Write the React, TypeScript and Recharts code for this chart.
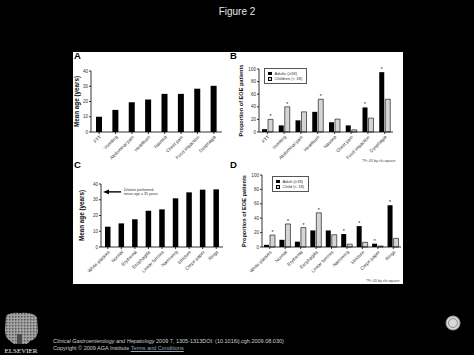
import { BarChart, Bar, XAxis, YAxis, ReferenceLine, LabelList, Legend } from "recharts"

// panel A / B: presenting symptoms
const symptoms = ["FTT", "Vomiting", "Abdominal pain", "Heartburn", "Nausea", "Chest pain", "Food impaction", "Dysphagia"]
const symptomAge = [10, 14.5, 19.5, 21.3, 25, 25, 28.4, 30.3]
const symptomAdults = [4.5, 10.5, 18.5, 32, 15.5, 10.5, 39, 95]
const symptomChildren = [20, 40, 32, 52, 20.5, 3.5, 22, 52]
const symptomAdultStar = ["", "", "", "", "", "", "*", "*"]
const symptomChildStar = ["*", "*", "", "*", "", "", "", ""]

// panel C / D: endoscopic findings
const findings = ["White plaques", "Normal", "Erythema", "Esophagitis", "Linear furrows", "Narrowing", "Stricture", "Crepe paper", "Rings"]
const findingAge = [12.9, 15, 17.6, 23, 23.9, 30.9, 34.7, 36.4, 36.6]
const findingAdults = [3, 10, 7.4, 23, 23, 18, 29, 4.6, 58]
const findingChildren = [16.6, 32, 27, 47.5, 17, 4, 6.5, 1.4, 12]
const findingAdultStar = ["", "", "", "", "", "*", "*", "*", "*"]
const findingChildStar = ["*", "*", "*", "*", "", "", "", "", ""]

const ageTicks = [0, 10, 20, 30, 40]
const pctTicks = [0, 20, 40, 60, 80, 100]
const dilationAge = 35

const ageA = symptoms.map((name, i) => ({ name, age: symptomAge[i] }))
const pctB = symptoms.map((name, i) => ({
  name,
  adults: symptomAdults[i],
  children: symptomChildren[i],
  aStar: symptomAdultStar[i],
  cStar: symptomChildStar[i],
}))
const ageC = findings.map((name, i) => ({ name, age: findingAge[i] }))
const pctD = findings.map((name, i) => ({
  name,
  adults: findingAdults[i],
  children: findingChildren[i],
  aStar: findingAdultStar[i],
  cStar: findingChildStar[i],
}))

const font = '"Liberation Sans", Arial, sans-serif'
const tickStyle = { fontSize: 4.6, fill: "#333", fontFamily: font }
const xTick = { ...tickStyle, angle: -45, textAnchor: "end" }

function KeyBox({ labels }: { labels: string[] }) {
  const sw = { display: "inline-block", width: 3.5, height: 3.5, marginRight: 3, verticalAlign: "middle" }
  return (
    <div
      style={{
        border: "0.8px solid #555",
        padding: "1.5px 4px 1.5px 3px",
        background: "#fff",
        fontSize: 4.2,
        lineHeight: "5.5px",
        color: "#333",
        fontFamily: font,
        whiteSpace: "nowrap",
      }}
    >
      <div>
        <span style={{ ...sw, background: "#000" }} />
        {labels[0]}
      </div>
      <div>
        <span style={{ ...sw, background: "#d4d4d4", border: "0.6px solid #000", boxSizing: "border-box" }} />
        {labels[1]}
      </div>
    </div>
  )
}

function DilationArrow(props: any) {
  const { x1, y1 } = props
  return (
    <g>
      <line x1={x1 + 7} y1={y1} x2={x1 + 20} y2={y1} stroke="#000" strokeWidth={1.4} />
      <path d={`M${x1 + 2},${y1} L${x1 + 8},${y1 - 2.4} L${x1 + 8},${y1 + 2.4} Z`} fill="#000" />
      <text x={x1 + 23} y={y1 - 1} fontSize={3.6} fill="#333" fontFamily={font}>
        Dilation performed,
      </text>
      <text x={x1 + 23} y={y1 + 3.5} fontSize={3.6} fill="#333" fontFamily={font}>
        mean age = 35 years
      </text>
    </g>
  )
}

const yLabel = (value: string, offset: number, size: number) => ({
  value,
  angle: -90,
  position: "insideLeft" as const,
  offset,
  style: { textAnchor: "middle", fontSize: size, fontWeight: "bold", fill: "#111", fontFamily: font },
})

const panelLetter = (left: number, top: number) => ({
  position: "absolute" as const,
  left,
  top,
  fontSize: 9.5,
  fontWeight: "bold" as const,
  color: "#000",
  fontFamily: font,
})

const note = (left: number, top: number) => ({
  position: "absolute" as const,
  left,
  top,
  fontSize: 3.6,
  color: "#444",
  fontFamily: font,
  whiteSpace: "nowrap" as const,
})

export default function App() {
  return (
    <div
      style={{
        position: "absolute",
        left: 0,
        top: 0,
        width: 474,
        height: 355,
        background: "#000",
        overflow: "hidden",
        fontFamily: font,
      }}
    >
      <div style={{ position: "absolute", top: 6, width: 474, textAlign: "center", color: "#e6e6e6", fontSize: 10 }}>
        Figure 2
      </div>

      <div style={{ position: "absolute", left: 73, top: 52, width: 330, height: 232, background: "#fff" }} />
      <div style={panelLetter(74, 50)}>A</div>
      <div style={panelLetter(230, 50)}>B</div>
      <div style={panelLetter(74, 159)}>C</div>
      <div style={panelLetter(230, 159)}>D</div>

      {/* A */}
      <div style={{ position: "absolute", left: 73, top: 60 }}>
        <BarChart width={155} height={102} data={ageA} margin={{ top: 11, right: 6, left: 0, bottom: 0 }}>
          <XAxis
            dataKey="name"
            interval={0}
            height={30}
            tick={xTick}
            tickSize={2}
            tickMargin={1}
            stroke="#000"
            strokeWidth={0.8}
          />
          <YAxis
            width={18}
            domain={[0, 40]}
            ticks={ageTicks}
            tick={tickStyle}
            tickSize={2}
            tickMargin={1}
            stroke="#000"
            strokeWidth={0.8}
            label={yLabel("Mean age (years)", 4, 6.3)}
          />
          <Bar dataKey="age" fill="#000" barSize={6} isAnimationActive={false} />
        </BarChart>
      </div>

      {/* B */}
      <div style={{ position: "absolute", left: 233, top: 60 }}>
        <BarChart width={165} height={102} data={pctB} margin={{ top: 9, right: 5, left: 0, bottom: 0 }} barGap={1}>
          <XAxis
            dataKey="name"
            interval={0}
            height={30}
            tick={xTick}
            tickSize={2}
            tickMargin={1}
            stroke="#000"
            strokeWidth={0.8}
          />
          <YAxis
            width={26}
            domain={[0, 100]}
            ticks={pctTicks}
            tick={tickStyle}
            tickSize={2}
            tickMargin={1}
            stroke="#000"
            strokeWidth={0.8}
            label={yLabel("Proportion of EOE patients", 8, 5.6)}
          />
          <Legend
            layout="vertical"
            align="center"
            verticalAlign="middle"
            wrapperStyle={{ left: 31, top: 8 }}
            content={() => <KeyBox labels={["Adults (\u226518)", "Children (< 18)"]} />}
          />
          <Bar dataKey="adults" fill="#000" barSize={5} isAnimationActive={false}>
            <LabelList dataKey="aStar" position="top" offset={1} fontSize={5} fill="#000" />
          </Bar>
          <Bar dataKey="children" fill="#d4d4d4" stroke="#000" strokeWidth={0.6} barSize={5} isAnimationActive={false}>
            <LabelList dataKey="cStar" position="top" offset={1} fontSize={5} fill="#000" />
          </Bar>
        </BarChart>
      </div>
      <div style={note(362, 159)}>*P&lt;.05 by chi-square</div>

      {/* C */}
      <div style={{ position: "absolute", left: 73, top: 175 }}>
        <BarChart width={155} height={102} data={ageC} margin={{ top: 9, right: 5, left: 0, bottom: 0 }}>
          <XAxis
            dataKey="name"
            interval={0}
            height={30}
            tick={xTick}
            tickSize={2}
            tickMargin={1}
            stroke="#000"
            strokeWidth={0.8}
          />
          <YAxis
            width={28}
            domain={[0, 40]}
            ticks={ageTicks}
            tick={tickStyle}
            tickSize={2}
            tickMargin={1}
            stroke="#000"
            strokeWidth={0.8}
            label={yLabel("Mean age (years)", 9, 6.3)}
          />
          <ReferenceLine y={dilationAge} stroke="none" shape={DilationArrow} />
          <Bar dataKey="age" fill="#000" barSize={5.5} isAnimationActive={false} />
        </BarChart>
      </div>

      {/* D */}
      <div style={{ position: "absolute", left: 233, top: 166 }}>
        <BarChart width={170} height={111} data={pctD} margin={{ top: 9, right: 2, left: 0, bottom: 0 }} barGap={1}>
          <XAxis
            dataKey="name"
            interval={0}
            height={30}
            tick={xTick}
            tickSize={2}
            tickMargin={1}
            stroke="#000"
            strokeWidth={0.8}
          />
          <YAxis
            width={29}
            domain={[0, 100]}
            ticks={pctTicks}
            tick={tickStyle}
            tickSize={2}
            tickMargin={1}
            stroke="#000"
            strokeWidth={0.8}
            label={yLabel("Proportion of EOE patients", 11, 5.6)}
          />
          <Legend
            layout="vertical"
            align="center"
            verticalAlign="middle"
            wrapperStyle={{ left: 39, top: 10 }}
            content={() => <KeyBox labels={["Adult (\u226518)", "Child (< 18)"]} />}
          />
          <Bar dataKey="adults" fill="#000" barSize={5} isAnimationActive={false}>
            <LabelList dataKey="aStar" position="top" offset={1} fontSize={5} fill="#000" />
          </Bar>
          <Bar dataKey="children" fill="#d4d4d4" stroke="#000" strokeWidth={0.6} barSize={5} isAnimationActive={false}>
            <LabelList dataKey="cStar" position="top" offset={1} fontSize={5} fill="#000" />
          </Bar>
        </BarChart>
      </div>
      <div style={note(366, 279)}>*P&lt;.05 by chi-square</div>

      {/* footer */}
      <svg style={{ position: "absolute", left: 0, top: 310 }} width={474} height={45}>
        <defs>
          <pattern id="bark" width={3} height={3} patternUnits="userSpaceOnUse">
            <rect width={3} height={3} fill="#9a9a9a" />
            <rect width={1.5} height={1.5} fill="#5a5a5a" />
            <rect x={1.5} y={1.5} width={1} height={1} fill="#c8c8c8" />
          </pattern>
        </defs>
        <path d="M6,6 Q10,2 20,3 Q32,2 37,7 L38,22 Q36,30 30,31 L27,34 L14,34 L10,31 Q5,28 5,20 Z" fill="url(#bark)" />
        <rect x={17} y={24} width={5} height={10} fill="#4a4a4a" />
        <text x={21} y={43} fontSize={7} fill="#eee" fontFamily='"Liberation Serif", serif' textAnchor="middle">
          ELSEVIER
        </text>
        <circle cx={453} cy={13} r={7} fill="#d8d8d8" stroke="#999" strokeWidth={1} />
        <circle cx={453} cy={13} r={4.5} fill="none" stroke="#777" strokeWidth={0.8} />
      </svg>
      <div style={{ position: "absolute", left: 53, top: 338, color: "#d0d0d0", fontSize: 5.5, lineHeight: "7px", whiteSpace: "nowrap" }}>
        <div>
          <i>Clinical Gastroenterology and Hepatology</i> 2009 7, 1305-1313DOI: (10.1016/j.cgh.2009.08.030)
        </div>
        <div>
          Copyright © 2009 AGA Institute <span style={{ color: "#9ab", textDecoration: "underline" }}>Terms and Conditions</span>
        </div>
      </div>
    </div>
  )
}
